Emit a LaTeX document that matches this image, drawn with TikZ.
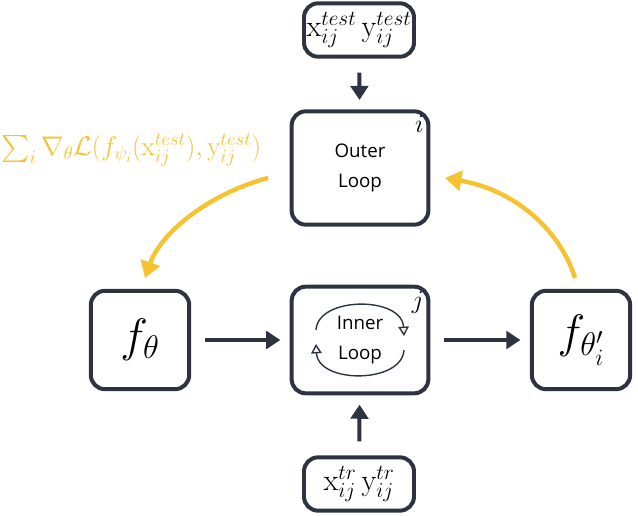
\documentclass[tikz,border=0pt]{standalone}
\usepackage{fix-cm}
\usepackage{amsmath,amssymb}
\usepackage{fontspec}
\newfontfamily\boxfont{Open Sans}
\usetikzlibrary{positioning,arrows.meta}
\definecolor{darkb}{HTML}{2D3340}
\definecolor{gold}{HTML}{F5C331}
\tikzset{
  blk/.style={draw=darkb,line width=3.4pt,rounded corners=12pt,align=center},
  dat/.style={blk,minimum width=3.3cm,minimum height=1.6cm,inner sep=2pt,font=\fontsize{26}{28}\selectfont},
  feed/.style={draw=darkb,line width=3.4pt,shorten <=12pt,shorten >=8pt,-{Triangle[length=12pt,width=15pt]}},
  lift/.style={draw=gold,line width=3.8pt,-{Triangle[length=14pt,width=17pt]}},
  spin/.style={draw=darkb,line width=1.2pt,-{Triangle[length=8pt,width=9pt,open]}}
}
\begin{document}
\begin{tikzpicture}[x=0.03cm,y=-0.03cm]
\useasboundingbox (0,0) rectangle (638,516);
\node[dat] (test) at (359,30) {$\mathrm{x}_{ij}^{test}\,\mathrm{y}_{ij}^{test}$};
\node[blk,minimum width=4.1cm,minimum height=3.4cm,font=\boxfont\fontsize{16}{20}\selectfont] (outer) at (360,168) {Outer\\[6pt]Loop};
\node[anchor=north east,font=\fontsize{22}{24}\selectfont] at ([xshift=-2pt,yshift=-2pt]outer.north east) {$i$};
\node[blk,minimum width=2.95cm,minimum height=2.95cm,font=\fontsize{40}{44}\selectfont] (ftheta) at (140,340) {$f_\theta$};
\node[blk,minimum width=4.1cm,minimum height=3.2cm,font=\boxfont\fontsize{16}{20}\selectfont] (inner) at (360,340) {Inner\\[6pt]Loop};
\node[anchor=north east,font=\fontsize{22}{24}\selectfont] at ([xshift=-2pt,yshift=-2pt]inner.north east) {$j$};
\node[blk,minimum width=2.95cm,minimum height=2.95cm,font=\fontsize{40}{44}\selectfont] (fprime) at (581,340) {$f_{\theta'_i}$};
\node[dat] (train) at (359,484) {$\mathrm{x}_{ij}^{tr}\,\mathrm{y}_{ij}^{tr}$};

% inner loop circulation
\coordinate (s1) at (316,330);
\coordinate (e1) at (404,336);
\coordinate (s2) at (404,350);
\coordinate (e2) at (316,344);
\draw[spin] (s1) .. controls (318,296) and (402,296) .. (e1);
\draw[spin] (s2) .. controls (402,384) and (318,384) .. (e2);

\draw[feed] (test) -- (outer);
\draw[feed] (ftheta) -- (inner);
\draw[feed] (inner) -- (fprime);
\draw[feed] (train) -- (inner);

\coordinate (o1) at (268,178);
\coordinate (f1) at (145,278);
\coordinate (f2) at (575,278);
\coordinate (o2) at (445,178);
\draw[lift] (o1) .. controls (205,195) and (160,235) .. (f1);
\draw[lift] (f2) .. controls (560,230) and (515,190) .. (o2);
\node[gold,anchor=west,inner sep=0pt,font=\fontsize{23}{26}\selectfont] (grad) at (1,150) {$\sum_i\nabla_\theta\mathcal{L}(f_{\psi_i}(\mathrm{x}_{ij}^{test}),\mathrm{y}_{ij}^{test})$};
\end{tikzpicture}
\end{document}
